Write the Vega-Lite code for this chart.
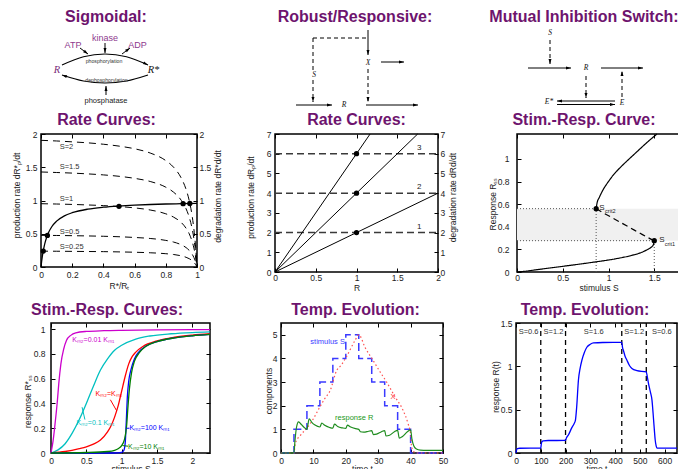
{
"$schema":"https://vega.github.io/schema/vega-lite/v6.json",
"padding":0,
"autosize":{"type":"pad"},
"spacing":0,
"bounds":"full",
"resolve":{"scale":{"color":"independent","strokeDash":"independent"}},
"config":{
 "view":{"stroke":null},
 "font":"Liberation Sans",
 "numberFormat":".3~f",
 "title":{"font":"Liberation Sans","fontSize":16,"fontWeight":"bold","color":"#6e146e","anchor":"middle","frame":"group","offset":4},
 "axis":{"domain":false,"grid":false,"tickSize":-4,"tickColor":"#000000","tickWidth":1,"labelFont":"Liberation Sans","labelFontSize":8.5,"labelColor":"#222222","labelPadding":7,"labelFlush":false,"labelOverlap":false,"titleFont":"Liberation Sans","titleFontSize":8.5,"titleFontWeight":"normal","titleColor":"#222222"},
 "axisLeft":{"titleAngle":-90,"titleBaseline":"middle","titleAlign":"center","labelPadding":8},
 "axisRight":{"titleAngle":-90,"titleBaseline":"middle","titleAlign":"center","labelPadding":6},
 "axisBottom":{"titleBaseline":"middle","titleAlign":"center"},
 "text":{"font":"Liberation Sans"}
},
"datasets":{
 "d1arc":[{"a":"u","x":62,"y":65},{"a":"u","x":83.5,"y":56.75},{"a":"u","x":105,"y":54},{"a":"u","x":126.5,"y":56.75},{"a":"u","x":148,"y":65},{"a":"l","x":62,"y":75},{"a":"l","x":83.5,"y":81},{"a":"l","x":105,"y":83},{"a":"l","x":126.5,"y":81},{"a":"l","x":148,"y":75}],
 "d1seg":[{"x":105,"y":43,"x2":105,"y2":53},{"x":80,"y":48,"x2":88,"y2":54},{"x":122,"y":54,"x2":130,"y2":48},{"x":106,"y":95,"x2":106,"y2":86}],
 "d1head":[{"x":148,"y":65,"ang":117},{"x":62,"y":75,"ang":290},{"x":105,"y":53,"ang":180},{"x":88,"y":54,"ang":127},{"x":130,"y":48,"ang":53},{"x":106,"y":86,"ang":0}],
 "d1t1":[{"t":"kinase","x":105,"y":38},{"t":"ATP","x":73,"y":45},{"t":"ADP","x":137.5,"y":45}],
 "d1t2":[{"t":"R","c":"p","x":57,"y":70},{"t":"R*","c":"k","x":153.5,"y":70}],
 "d1t3":[{"t":"phosphorylation","x":104,"y":61},{"t":"dephosphorylation","x":106.5,"y":79.5}],
 "d1t4":[{"t":"phosphatase","x":106,"y":100.5}],
 "d2seg":[{"d":"s","x":368,"y":30,"x2":368,"y2":55},{"d":"s","x":381,"y":62,"x2":404,"y2":62},{"d":"s","x":296,"y":105,"x2":332,"y2":105},{"d":"s","x":366,"y":105,"x2":418,"y2":105},{"d":"d","x":313,"y":38,"x2":368,"y2":38},{"d":"d","x":313,"y":38,"x2":313,"y2":70},{"d":"d","x":313,"y":80,"x2":313,"y2":102},{"d":"d","x":368,"y":69,"x2":368,"y2":102}],
 "d2head":[{"x":368,"y":55,"ang":180},{"x":404,"y":62,"ang":90},{"x":332,"y":105,"ang":90},{"x":418,"y":105,"ang":90},{"x":313,"y":102,"ang":180},{"x":368,"y":102,"ang":180}],
 "d2t":[{"t":"S","x":314,"y":75},{"t":"X","x":368,"y":63},{"t":"R","x":344,"y":105}],
 "d3seg":[{"d":"d","x":550,"y":40,"x2":550,"y2":64},{"d":"d","x":586,"y":76,"x2":586,"y2":98},{"d":"d","x":622,"y":97,"x2":622,"y2":71},{"d":"s","x":528,"y":68,"x2":571,"y2":68},{"d":"s","x":601,"y":68,"x2":643,"y2":68},{"d":"s","x":557,"y":101,"x2":615,"y2":101},{"d":"s","x":557,"y":104.5,"x2":615,"y2":104.5}],
 "d3head":[{"x":550,"y":64,"ang":180},{"x":586,"y":98,"ang":180},{"x":622,"y":71,"ang":0},{"x":571,"y":68,"ang":90},{"x":643,"y":68,"ang":90},{"x":557,"y":101,"ang":270},{"x":615,"y":104.5,"ang":90}],
 "d3t":[{"t":"S","x":550,"y":33},{"t":"R","x":586,"y":68},{"t":"E*","x":549,"y":102},{"t":"E","x":622,"y":103}],
 "p4dash":[
  {"S":"0.25","x":0,"y":0.238},{"S":"0.25","x":0.1,"y":0.237},{"S":"0.25","x":0.2,"y":0.235},{"S":"0.25","x":0.3,"y":0.233},{"S":"0.25","x":0.4,"y":0.231},{"S":"0.25","x":0.5,"y":0.227},{"S":"0.25","x":0.6,"y":0.222},{"S":"0.25","x":0.7,"y":0.214},{"S":"0.25","x":0.8,"y":0.2},{"S":"0.25","x":0.85,"y":0.188},{"S":"0.25","x":0.9,"y":0.167},{"S":"0.25","x":0.93,"y":0.146},{"S":"0.25","x":0.95,"y":0.125},{"S":"0.25","x":0.97,"y":0.094},{"S":"0.25","x":0.98,"y":0.071},{"S":"0.25","x":0.99,"y":0.042},{"S":"0.25","x":1,"y":0},
  {"S":"0.5","x":0,"y":0.476},{"S":"0.5","x":0.1,"y":0.474},{"S":"0.5","x":0.2,"y":0.471},{"S":"0.5","x":0.3,"y":0.467},{"S":"0.5","x":0.4,"y":0.462},{"S":"0.5","x":0.5,"y":0.455},{"S":"0.5","x":0.6,"y":0.444},{"S":"0.5","x":0.7,"y":0.429},{"S":"0.5","x":0.8,"y":0.4},{"S":"0.5","x":0.85,"y":0.375},{"S":"0.5","x":0.9,"y":0.333},{"S":"0.5","x":0.93,"y":0.292},{"S":"0.5","x":0.95,"y":0.25},{"S":"0.5","x":0.97,"y":0.188},{"S":"0.5","x":0.98,"y":0.143},{"S":"0.5","x":0.99,"y":0.083},{"S":"0.5","x":1,"y":0},
  {"S":"1","x":0,"y":0.952},{"S":"1","x":0.1,"y":0.947},{"S":"1","x":0.2,"y":0.941},{"S":"1","x":0.3,"y":0.933},{"S":"1","x":0.4,"y":0.923},{"S":"1","x":0.5,"y":0.909},{"S":"1","x":0.6,"y":0.889},{"S":"1","x":0.7,"y":0.857},{"S":"1","x":0.8,"y":0.8},{"S":"1","x":0.85,"y":0.75},{"S":"1","x":0.9,"y":0.667},{"S":"1","x":0.93,"y":0.583},{"S":"1","x":0.95,"y":0.5},{"S":"1","x":0.97,"y":0.375},{"S":"1","x":0.98,"y":0.286},{"S":"1","x":0.99,"y":0.167},{"S":"1","x":1,"y":0},
  {"S":"1.5","x":0,"y":1.429},{"S":"1.5","x":0.1,"y":1.421},{"S":"1.5","x":0.2,"y":1.412},{"S":"1.5","x":0.3,"y":1.4},{"S":"1.5","x":0.4,"y":1.385},{"S":"1.5","x":0.5,"y":1.364},{"S":"1.5","x":0.6,"y":1.333},{"S":"1.5","x":0.7,"y":1.286},{"S":"1.5","x":0.8,"y":1.2},{"S":"1.5","x":0.85,"y":1.125},{"S":"1.5","x":0.9,"y":1},{"S":"1.5","x":0.93,"y":0.875},{"S":"1.5","x":0.95,"y":0.75},{"S":"1.5","x":0.97,"y":0.563},{"S":"1.5","x":0.98,"y":0.429},{"S":"1.5","x":0.99,"y":0.25},{"S":"1.5","x":1,"y":0},
  {"S":"2","x":0,"y":1.905},{"S":"2","x":0.1,"y":1.895},{"S":"2","x":0.2,"y":1.882},{"S":"2","x":0.3,"y":1.867},{"S":"2","x":0.4,"y":1.846},{"S":"2","x":0.5,"y":1.818},{"S":"2","x":0.6,"y":1.778},{"S":"2","x":0.7,"y":1.714},{"S":"2","x":0.8,"y":1.6},{"S":"2","x":0.85,"y":1.5},{"S":"2","x":0.9,"y":1.333},{"S":"2","x":0.93,"y":1.167},{"S":"2","x":0.95,"y":1},{"S":"2","x":0.97,"y":0.75},{"S":"2","x":0.98,"y":0.571},{"S":"2","x":0.99,"y":0.333},{"S":"2","x":1,"y":0}],
 "p4solid":[{"x":0,"y":0},{"x":0.004,"y":0.082},{"x":0.008,"y":0.151},{"x":0.0145,"y":0.244},{"x":0.02,"y":0.308},{"x":0.03,"y":0.4},{"x":0.04,"y":0.471},{"x":0.05,"y":0.526},{"x":0.07,"y":0.609},{"x":0.1,"y":0.69},{"x":0.15,"y":0.769},{"x":0.2,"y":0.816},{"x":0.3,"y":0.87},{"x":0.4,"y":0.899},{"x":0.5,"y":0.917},{"x":0.6,"y":0.93},{"x":0.7,"y":0.94},{"x":0.8,"y":0.947},{"x":0.9,"y":0.952},{"x":1,"y":0.957}],
 "p4dots":[{"x":0.0145,"y":0.24},{"x":0.041,"y":0.475},{"x":0.5,"y":0.913},{"x":0.911,"y":0.952},{"x":0.954,"y":0.955}],
 "p4lab":[{"t":"S=2","x":0.12,"y":1.8},{"t":"S=1.5","x":0.12,"y":1.5},{"t":"S=1","x":0.12,"y":1.03},{"t":"S=0.5","x":0.12,"y":0.53},{"t":"S=0.25","x":0.12,"y":0.3}],
 "p5lines":[{"k":"1","x":0,"y":0},{"k":"1","x":2,"y":4},{"k":"2","x":0,"y":0},{"k":"2","x":1.75,"y":7},{"k":"3","x":0,"y":0},{"k":"3","x":1.1667,"y":7}],
 "p5dash":[{"k":"1","x":0,"y":2},{"k":"1","x":2,"y":2},{"k":"2","x":0,"y":4},{"k":"2","x":2,"y":4},{"k":"3","x":0,"y":6},{"k":"3","x":2,"y":6}],
 "p5dots":[{"x":1,"y":2},{"x":1,"y":4},{"x":1,"y":6}],
 "p5lab":[{"t":"1","x":1.77,"y":2.3},{"t":"2","x":1.77,"y":4.3},{"t":"3","x":1.77,"y":6.3}],
 "p6band":[{"x":0,"x2":2,"y":0.277,"y2":0.56}],
 "p6dot":[{"x":0,"y":0.56,"x2":0.865,"y2":0.56},{"x":0.865,"y":0,"x2":0.865,"y2":0.56},{"x":0,"y":0.277,"x2":1.5,"y2":0.277},{"x":1.5,"y":0,"x2":1.5,"y2":0.277}],
 "p6curve":[
  {"b":"lo","x":0,"y":0},{"b":"lo","x":0.1,"y":0.008},{"b":"lo","x":0.25,"y":0.024},{"b":"lo","x":0.5,"y":0.05},{"b":"lo","x":0.75,"y":0.077},{"b":"lo","x":0.865,"y":0.09},{"b":"lo","x":1,"y":0.106},{"b":"lo","x":1.15,"y":0.128},{"b":"lo","x":1.25,"y":0.146},{"b":"lo","x":1.35,"y":0.17},{"b":"lo","x":1.42,"y":0.196},{"b":"lo","x":1.46,"y":0.215},{"b":"lo","x":1.49,"y":0.24},{"b":"lo","x":1.5,"y":0.277},
  {"b":"mid","x":0.865,"y":0.56},{"b":"mid","x":0.95,"y":0.52},{"b":"mid","x":1.05,"y":0.475},{"b":"mid","x":1.15,"y":0.43},{"b":"mid","x":1.25,"y":0.385},{"b":"mid","x":1.35,"y":0.34},{"b":"mid","x":1.43,"y":0.305},{"b":"mid","x":1.5,"y":0.277},
  {"b":"up","x":0.865,"y":0.56},{"b":"up","x":0.875,"y":0.61},{"b":"up","x":0.9,"y":0.66},{"b":"up","x":0.95,"y":0.74},{"b":"up","x":1,"y":0.8},{"b":"up","x":1.05,"y":0.855},{"b":"up","x":1.1,"y":0.9},{"b":"up","x":1.2,"y":0.98},{"b":"up","x":1.3,"y":1.055},{"b":"up","x":1.4,"y":1.13},{"b":"up","x":1.5,"y":1.2},{"b":"up","x":1.53,"y":1.22}],
 "p6pts":[{"x":0.865,"y":0.56},{"x":1.5,"y":0.277}],
 "p6S":[{"t":"S","x":0.9,"y":0.57},{"t":"S","x":1.555,"y":0.283}],
 "p6sub":[{"t":"crit2","x":0.963,"y":0.535},{"t":"crit1","x":1.615,"y":0.25}],
 "p7curves":[
  {"k":"m","x":0,"y":0},{"k":"m","x":0.03,"y":0.1},{"k":"m","x":0.06,"y":0.25},{"k":"m","x":0.09,"y":0.42},{"k":"m","x":0.11,"y":0.56},{"k":"m","x":0.14,"y":0.72},{"k":"m","x":0.18,"y":0.84},{"k":"m","x":0.22,"y":0.91},{"k":"m","x":0.28,"y":0.95},{"k":"m","x":0.35,"y":0.97},{"k":"m","x":0.5,"y":0.982},{"k":"m","x":0.75,"y":0.988},{"k":"m","x":1,"y":0.991},{"k":"m","x":1.5,"y":0.994},{"k":"m","x":2,"y":0.996},{"k":"m","x":2.25,"y":0.997},
  {"k":"c","x":0,"y":0},{"k":"c","x":0.1,"y":0.025},{"k":"c","x":0.2,"y":0.075},{"k":"c","x":0.3,"y":0.16},{"k":"c","x":0.4,"y":0.27},{"k":"c","x":0.5,"y":0.4},{"k":"c","x":0.6,"y":0.54},{"k":"c","x":0.7,"y":0.67},{"k":"c","x":0.8,"y":0.76},{"k":"c","x":0.9,"y":0.83},{"k":"c","x":1,"y":0.87},{"k":"c","x":1.2,"y":0.92},{"k":"c","x":1.4,"y":0.945},{"k":"c","x":1.7,"y":0.963},{"k":"c","x":2,"y":0.973},{"k":"c","x":2.25,"y":0.978},
  {"k":"r","x":0,"y":0},{"k":"r","x":0.2,"y":0.012},{"k":"r","x":0.4,"y":0.035},{"k":"r","x":0.5,"y":0.05},{"k":"r","x":0.6,"y":0.072},{"k":"r","x":0.7,"y":0.105},{"k":"r","x":0.8,"y":0.17},{"k":"r","x":0.85,"y":0.22},{"k":"r","x":0.9,"y":0.29},{"k":"r","x":0.95,"y":0.38},{"k":"r","x":1,"y":0.5},{"k":"r","x":1.05,"y":0.62},{"k":"r","x":1.1,"y":0.72},{"k":"r","x":1.15,"y":0.78},{"k":"r","x":1.2,"y":0.815},{"k":"r","x":1.3,"y":0.86},{"k":"r","x":1.5,"y":0.905},{"k":"r","x":1.75,"y":0.935},{"k":"r","x":2,"y":0.952},{"k":"r","x":2.25,"y":0.963},
  {"k":"b","x":0,"y":0},{"k":"b","x":0.9,"y":0},{"k":"b","x":1,"y":0.005},{"k":"b","x":1.03,"y":0.02},{"k":"b","x":1.05,"y":0.08},{"k":"b","x":1.065,"y":0.25},{"k":"b","x":1.08,"y":0.45},{"k":"b","x":1.1,"y":0.58},{"k":"b","x":1.13,"y":0.67},{"k":"b","x":1.18,"y":0.76},{"k":"b","x":1.25,"y":0.82},{"k":"b","x":1.35,"y":0.865},{"k":"b","x":1.5,"y":0.9},{"k":"b","x":1.75,"y":0.93},{"k":"b","x":2,"y":0.947},{"k":"b","x":2.25,"y":0.958},
  {"k":"g","x":0,"y":0},{"k":"g","x":0.5,"y":0.004},{"k":"g","x":0.8,"y":0.012},{"k":"g","x":0.9,"y":0.022},{"k":"g","x":0.95,"y":0.035},{"k":"g","x":1,"y":0.06},{"k":"g","x":1.04,"y":0.11},{"k":"g","x":1.07,"y":0.22},{"k":"g","x":1.09,"y":0.38},{"k":"g","x":1.11,"y":0.52},{"k":"g","x":1.14,"y":0.65},{"k":"g","x":1.18,"y":0.74},{"k":"g","x":1.25,"y":0.81},{"k":"g","x":1.35,"y":0.865},{"k":"g","x":1.5,"y":0.9},{"k":"g","x":1.75,"y":0.93},{"k":"g","x":2,"y":0.947},{"k":"g","x":2.25,"y":0.958}],
 "p7lab":[{"k":"m","t":"Kₘ₂=0.01 Kₘ₁","x":0.3,"y":0.91},{"k":"c","t":"Kₘ₂=0.1 Kₘ₁","x":0.36,"y":0.24},{"k":"r","t":"Kₘ₂=Kₘ₁","x":0.63,"y":0.48},{"k":"b","t":"Kₘ₂=100 Kₘ₁","x":1.11,"y":0.2},{"k":"g","t":"Kₘ₂=10 Kₘ₁","x":1.09,"y":0.05}],
 "p7ptr":[{"k":"c","x":0.48,"y":0.27,"x2":0.44,"y2":0.37},{"k":"r","x":0.84,"y":0.43,"x2":0.93,"y2":0.34},{"k":"b","x":1.11,"y":0.2,"x2":1.065,"y2":0.2},{"k":"g","x":1.09,"y":0.055,"x2":1.01,"y2":0.06}],
 "p8S":[{"x":0,"y":0},{"x":4,"y":1},{"x":8,"y":2},{"x":12,"y":3},{"x":16,"y":4},{"x":20,"y":5},{"x":24,"y":4},{"x":28,"y":3},{"x":32,"y":2},{"x":36,"y":1},{"x":40,"y":0},{"x":50,"y":0}],
 "p8X":[{"x":0,"y":0},{"x":4,"y":0},{"x":4.4,"y":0.4},{"x":6,"y":0.75},{"x":8,"y":1.05},{"x":10,"y":1.45},{"x":12,"y":1.95},{"x":13.5,"y":2.3},{"x":15.2,"y":2.65},{"x":17.2,"y":3.5},{"x":18.5,"y":3.7},{"x":20.3,"y":4.1},{"x":22.8,"y":4.75},{"x":24,"y":5},{"x":26,"y":4.45},{"x":28.5,"y":3.9},{"x":30.5,"y":3.45},{"x":32.6,"y":3},{"x":35.1,"y":2.4},{"x":37.7,"y":1.8},{"x":39.2,"y":1.25},{"x":40,"y":0.8},{"x":40.3,"y":0.27},{"x":41,"y":0.05},{"x":42,"y":0},{"x":50,"y":0}],
 "p8R":[{"x":0,"y":0},{"x":4,"y":0},{"x":4.3,"y":0.5},{"x":4.8,"y":1.1},{"x":5.4,"y":1.32},{"x":6,"y":1.25},{"x":7,"y":1.1},{"x":8,"y":1},{"x":8.3,"y":1.2},{"x":8.7,"y":1.45},{"x":9.5,"y":1.3},{"x":10.5,"y":1.18},{"x":12,"y":1.1},{"x":12.6,"y":1.27},{"x":13.5,"y":1.17},{"x":15,"y":1.08},{"x":16,"y":1.05},{"x":16.5,"y":1.22},{"x":17.5,"y":1.12},{"x":19,"y":1.06},{"x":20,"y":1.04},{"x":20.5,"y":1.18},{"x":21.5,"y":1.1},{"x":23,"y":1.03},{"x":24,"y":1},{"x":24.5,"y":0.9},{"x":25.5,"y":0.88},{"x":27,"y":0.92},{"x":28,"y":0.95},{"x":28.5,"y":0.78},{"x":29.5,"y":0.8},{"x":31,"y":0.9},{"x":32,"y":0.95},{"x":32.4,"y":0.72},{"x":33.5,"y":0.75},{"x":35,"y":0.9},{"x":36,"y":0.96},{"x":36.5,"y":0.63},{"x":37.5,"y":0.7},{"x":39,"y":0.9},{"x":40,"y":0.98},{"x":40.4,"y":0.6},{"x":41,"y":0.3},{"x":41.8,"y":0.17},{"x":43,"y":0.12},{"x":45,"y":0.11},{"x":50,"y":0.11}],
 "p8lab":[{"k":"S","t":"stimulus S","x":14.4,"y":4.68},{"k":"X","t":"X","x":34.6,"y":2.39},{"k":"R","t":"response R","x":22.6,"y":1.46}],
 "p9line":[{"x":0,"y":0},{"x":2,"y":0.03},{"x":5,"y":0.05},{"x":15,"y":0.055},{"x":100,"y":0.056},{"x":102,"y":0.1},{"x":105,"y":0.13},{"x":110,"y":0.14},{"x":130,"y":0.144},{"x":200,"y":0.145},{"x":203,"y":0.17},{"x":212,"y":0.21},{"x":225,"y":0.29},{"x":235,"y":0.34},{"x":240,"y":0.38},{"x":245,"y":0.53},{"x":252,"y":0.84},{"x":259,"y":0.98},{"x":266,"y":1.07},{"x":276,"y":1.16},{"x":286,"y":1.22},{"x":300,"y":1.255},{"x":313,"y":1.27},{"x":350,"y":1.275},{"x":427,"y":1.276},{"x":430,"y":1.22},{"x":434,"y":1.18},{"x":440,"y":1.12},{"x":448,"y":1.07},{"x":458,"y":1.01},{"x":468,"y":0.975},{"x":488,"y":0.95},{"x":526,"y":0.935},{"x":530,"y":0.88},{"x":535,"y":0.8},{"x":542,"y":0.71},{"x":549,"y":0.61},{"x":555,"y":0.4},{"x":559,"y":0.25},{"x":562,"y":0.15},{"x":566,"y":0.08},{"x":570,"y":0.056},{"x":650,"y":0.056}],
 "p9vl":[{"x":100,"y":0,"y2":1.5},{"x":200,"y":0,"y2":1.5},{"x":427,"y":0,"y2":1.5},{"x":526,"y":0,"y2":1.5}],
 "p9lab":[{"t":"S=0.6","x":51,"y":1.395},{"t":"S=1.2","x":151,"y":1.395},{"t":"S=1.6","x":314,"y":1.395},{"t":"S=1.2","x":477,"y":1.395},{"t":"S=0.6","x":589,"y":1.395}]
},
"vconcat":[
{"hconcat":[
 {"width":41,"height":58,"data":{"values":[{"x":0.2,"y":-24.8},{"x":0.2,"y":83.8}]},"mark":{"type":"point","opacity":0,"size":0.1},"encoding":{"x":{"field":"x","type":"quantitative","scale":{"domain":[0,41],"nice":false,"zero":false},"axis":null},"y":{"field":"y","type":"quantitative","scale":{"domain":[0,58],"nice":false,"zero":false,"reverse":true},"axis":null}}},
 {"width":156,"height":58,"title":{"text":"Sigmoidal:","dx":-13,"offset":0},
  "layer":[
   {"data":{"name":"d1arc"},"mark":{"type":"line","color":"#000000","strokeWidth":1.1,"interpolate":"monotone"},"encoding":{"x":{"field":"x","type":"quantitative","scale":{"domain":[41,197],"nice":false,"zero":false},"axis":null},"y":{"field":"y","type":"quantitative","scale":{"domain":[25,83],"nice":false,"zero":false,"reverse":true},"axis":null},"detail":{"field":"a","type":"nominal"}}},
   {"data":{"name":"d1seg"},"mark":{"type":"rule","color":"#000000","strokeWidth":1},"encoding":{"x":{"field":"x","type":"quantitative","scale":{"domain":[41,197],"nice":false,"zero":false},"axis":null},"y":{"field":"y","type":"quantitative","scale":{"domain":[25,83],"nice":false,"zero":false,"reverse":true},"axis":null},"x2":{"field":"x2"},"y2":{"field":"y2"}}},
   {"data":{"name":"d1head"},"mark":{"type":"point","shape":"M0,0L0.6,2L-0.6,2Z","filled":true,"color":"#000000","opacity":1,"size":25,"strokeWidth":0},"encoding":{"x":{"field":"x","type":"quantitative","scale":{"domain":[41,197],"nice":false,"zero":false},"axis":null},"y":{"field":"y","type":"quantitative","scale":{"domain":[25,83],"nice":false,"zero":false,"reverse":true},"axis":null},"angle":{"field":"ang","type":"quantitative","scale":null}}},
   {"data":{"name":"d1t1"},"mark":{"type":"text","fontSize":9,"color":"#8e3a8e"},"encoding":{"x":{"field":"x","type":"quantitative","scale":{"domain":[41,197],"nice":false,"zero":false},"axis":null},"y":{"field":"y","type":"quantitative","scale":{"domain":[25,83],"nice":false,"zero":false,"reverse":true},"axis":null},"text":{"field":"t"}}},
   {"data":{"name":"d1t2"},"mark":{"type":"text","font":"Liberation Serif","fontStyle":"italic","fontSize":10.5},"encoding":{"x":{"field":"x","type":"quantitative","scale":{"domain":[41,197],"nice":false,"zero":false},"axis":null},"y":{"field":"y","type":"quantitative","scale":{"domain":[25,83],"nice":false,"zero":false,"reverse":true},"axis":null},"text":{"field":"t"},"color":{"field":"c","type":"nominal","scale":{"domain":["p","k"],"range":["#7a2a7a","#111111"]},"legend":null}}},
   {"data":{"name":"d1t3"},"mark":{"type":"text","fontSize":5.2,"color":"#333333"},"encoding":{"x":{"field":"x","type":"quantitative","scale":{"domain":[41,197],"nice":false,"zero":false},"axis":null},"y":{"field":"y","type":"quantitative","scale":{"domain":[25,83],"nice":false,"zero":false,"reverse":true},"axis":null},"text":{"field":"t"}}},
   {"data":{"name":"d1t4"},"mark":{"type":"text","fontSize":7.5,"color":"#222222"},"encoding":{"x":{"field":"x","type":"quantitative","scale":{"domain":[41,197],"nice":false,"zero":false},"axis":null},"y":{"field":"y","type":"quantitative","scale":{"domain":[25,83],"nice":false,"zero":false,"reverse":true},"axis":null},"text":{"field":"t"}}}
  ]},
 {"width":78,"height":58,"data":{"values":[{}]},"mark":{"type":"point","opacity":0},"encoding":{}},
 {"width":163,"height":58,"title":{"text":"Robust/Responsive:","dx":-1.5,"offset":0},
  "layer":[
   {"data":{"name":"d2seg"},"mark":{"type":"rule","color":"#000000","strokeWidth":1},"encoding":{"x":{"field":"x","type":"quantitative","scale":{"domain":[275,438],"nice":false,"zero":false},"axis":null},"y":{"field":"y","type":"quantitative","scale":{"domain":[25,83],"nice":false,"zero":false,"reverse":true},"axis":null},"x2":{"field":"x2"},"y2":{"field":"y2"},"strokeDash":{"field":"d","type":"nominal","scale":{"domain":["s","d"],"range":[[1,0],[4,3]]},"legend":null}}},
   {"data":{"name":"d2head"},"mark":{"type":"point","shape":"M0,0L0.6,2L-0.6,2Z","filled":true,"color":"#000000","opacity":1,"size":25,"strokeWidth":0},"encoding":{"x":{"field":"x","type":"quantitative","scale":{"domain":[275,438],"nice":false,"zero":false},"axis":null},"y":{"field":"y","type":"quantitative","scale":{"domain":[25,83],"nice":false,"zero":false,"reverse":true},"axis":null},"angle":{"field":"ang","type":"quantitative","scale":null}}},
   {"data":{"name":"d2t"},"mark":{"type":"text","font":"Liberation Serif","fontStyle":"italic","fontSize":7.5,"color":"#111111"},"encoding":{"x":{"field":"x","type":"quantitative","scale":{"domain":[275,438],"nice":false,"zero":false},"axis":null},"y":{"field":"y","type":"quantitative","scale":{"domain":[25,83],"nice":false,"zero":false,"reverse":true},"axis":null},"text":{"field":"t"}}}
  ]},
 {"width":79,"height":58,"data":{"values":[{}]},"mark":{"type":"point","opacity":0},"encoding":{}},
 {"width":183,"height":58,"title":{"text":"Mutual Inhibition Switch:","dx":-24.5,"offset":0},
  "layer":[
   {"data":{"name":"d3seg"},"mark":{"type":"rule","color":"#000000","strokeWidth":1},"encoding":{"x":{"field":"x","type":"quantitative","scale":{"domain":[517,700],"nice":false,"zero":false},"axis":null},"y":{"field":"y","type":"quantitative","scale":{"domain":[25,83],"nice":false,"zero":false,"reverse":true},"axis":null},"x2":{"field":"x2"},"y2":{"field":"y2"},"strokeDash":{"field":"d","type":"nominal","scale":{"domain":["s","d"],"range":[[1,0],[4,3]]},"legend":null}}},
   {"data":{"name":"d3head"},"mark":{"type":"point","shape":"M0,0L0.6,2L-0.6,2Z","filled":true,"color":"#000000","opacity":1,"size":25,"strokeWidth":0},"encoding":{"x":{"field":"x","type":"quantitative","scale":{"domain":[517,700],"nice":false,"zero":false},"axis":null},"y":{"field":"y","type":"quantitative","scale":{"domain":[25,83],"nice":false,"zero":false,"reverse":true},"axis":null},"angle":{"field":"ang","type":"quantitative","scale":null}}},
   {"data":{"name":"d3t"},"mark":{"type":"text","font":"Liberation Serif","fontStyle":"italic","fontSize":7.5,"color":"#111111"},"encoding":{"x":{"field":"x","type":"quantitative","scale":{"domain":[517,700],"nice":false,"zero":false},"axis":null},"y":{"field":"y","type":"quantitative","scale":{"domain":[25,83],"nice":false,"zero":false,"reverse":true},"axis":null},"text":{"field":"t"}}}
  ]}
 ],"spacing":0,"bounds":"flush","resolve":{"scale":{"color":"independent","strokeDash":"independent"}}},

{"hconcat":[
 {"width":41,"height":138,"data":{"values":[{"x":0.2,"y":-24.8},{"x":0.2,"y":161.8}]},"mark":{"type":"point","opacity":0,"size":0.1},"encoding":{"x":{"field":"x","type":"quantitative","scale":{"domain":[0,41],"nice":false,"zero":false},"axis":null},"y":{"field":"y","type":"quantitative","scale":{"domain":[0,138],"nice":false,"zero":false,"reverse":true},"axis":null}}},
 {"width":156,"height":133,"title":{"text":"Rate Curves:","dx":-12.5,"offset":2},"view":{"stroke":"#000000","strokeWidth":1.5},
  "resolve":{"axis":{"x":"independent","y":"independent"}},
  "layer":[
   {"data":{"name":"p4dash"},"mark":{"type":"line","color":"#000000","strokeWidth":1,"strokeDash":[7,5],"interpolate":"monotone"},"encoding":{"x":{"field":"x","type":"quantitative","scale":{"domain":[0,1],"nice":false,"zero":false},"axis":{"orient":"bottom","values":[0,0.2,0.4,0.6,0.8,1],"title":"R*/Rₜ","titleY":18}},"y":{"field":"y","type":"quantitative","scale":{"domain":[0,2],"nice":false,"zero":false},"axis":{"orient":"left","values":[0,0.5,1,1.5,2],"title":"production rate dR*ₚ/dt","titleX":-25,"titleY":61}},"detail":{"field":"S","type":"nominal"}}},
   {"data":{"name":"p4solid"},"mark":{"type":"line","color":"#000000","strokeWidth":1.3,"interpolate":"monotone"},"encoding":{"x":{"field":"x","type":"quantitative","scale":{"domain":[0,1],"nice":false,"zero":false},"axis":{"orient":"top","values":[0,0.2,0.4,0.6,0.8,1],"labels":false,"title":null}},"y":{"field":"y","type":"quantitative","scale":{"domain":[0,2],"nice":false,"zero":false},"axis":{"orient":"right","values":[0,0.5,1,1.5,2],"title":"degradation rate dR*d/dt","titleX":20,"titleY":62}}}},
   {"data":{"name":"p4dots"},"mark":{"type":"point","filled":true,"color":"#000000","opacity":1,"size":28},"encoding":{"x":{"field":"x","type":"quantitative","scale":{"domain":[0,1],"nice":false,"zero":false},"axis":null},"y":{"field":"y","type":"quantitative","scale":{"domain":[0,2],"nice":false,"zero":false},"axis":null}}},
   {"data":{"name":"p4lab"},"mark":{"type":"text","align":"left","fontSize":7.5,"color":"#333333"},"encoding":{"x":{"field":"x","type":"quantitative","scale":{"domain":[0,1],"nice":false,"zero":false},"axis":null},"y":{"field":"y","type":"quantitative","scale":{"domain":[0,2],"nice":false,"zero":false},"axis":null},"text":{"field":"t"}}}
  ]},
 {"width":78,"height":138,"data":{"values":[{}]},"mark":{"type":"point","opacity":0},"encoding":{}},
 {"width":163,"height":138,"title":{"text":"Rate Curves:","dx":0,"offset":2},"view":{"stroke":"#000000","strokeWidth":1.5},
  "resolve":{"axis":{"x":"independent","y":"independent"}},
  "layer":[
   {"data":{"name":"p5dash"},"mark":{"type":"line","color":"#3a3a3a","strokeWidth":1.5,"strokeDash":[7,4]},"encoding":{"x":{"field":"x","type":"quantitative","scale":{"domain":[0,2],"nice":false,"zero":false},"axis":{"orient":"bottom","values":[0,0.5,1,1.5,2],"title":"R","titleY":15.5,"labelPadding":5}},"y":{"field":"y","type":"quantitative","scale":{"domain":[0,7],"nice":false,"zero":false},"axis":{"orient":"left","values":[0,1,2,3,4,5,6,7],"title":"production rate dRₚ/dt","titleX":-25,"titleY":63}},"detail":{"field":"k","type":"nominal"}}},
   {"data":{"name":"p5lines"},"mark":{"type":"line","color":"#000000","strokeWidth":1},"encoding":{"x":{"field":"x","type":"quantitative","scale":{"domain":[0,2],"nice":false,"zero":false},"axis":{"orient":"top","values":[0,0.5,1,1.5,2],"labels":false,"title":null}},"y":{"field":"y","type":"quantitative","scale":{"domain":[0,7],"nice":false,"zero":false},"axis":{"orient":"right","values":[0,1,2,3,4,5,6,7],"title":"degradation rate dRd/dt","titleX":14,"titleY":63}},"detail":{"field":"k","type":"nominal"}}},
   {"data":{"name":"p5dots"},"mark":{"type":"point","filled":true,"color":"#000000","opacity":1,"size":28},"encoding":{"x":{"field":"x","type":"quantitative","scale":{"domain":[0,2],"nice":false,"zero":false},"axis":null},"y":{"field":"y","type":"quantitative","scale":{"domain":[0,7],"nice":false,"zero":false},"axis":null}}},
   {"data":{"name":"p5lab"},"mark":{"type":"text","fontSize":8,"color":"#222222"},"encoding":{"x":{"field":"x","type":"quantitative","scale":{"domain":[0,2],"nice":false,"zero":false},"axis":null},"y":{"field":"y","type":"quantitative","scale":{"domain":[0,7],"nice":false,"zero":false},"axis":null},"text":{"field":"t"}}}
  ]},
 {"width":79,"height":138,"data":{"values":[{}]},"mark":{"type":"point","opacity":0},"encoding":{}},
 {"width":183,"height":138,"title":{"text":"Stim.-Resp. Curve:","dx":-24.5,"offset":3.3},"view":{"stroke":"#000000","strokeWidth":1.5},
  "resolve":{"axis":{"x":"independent","y":"independent"}},
  "layer":[
   {"data":{"name":"p6band"},"mark":{"type":"rect","color":"#f0f0f0"},"encoding":{"x":{"field":"x","type":"quantitative","scale":{"domain":[0,2],"nice":false,"zero":false},"axis":{"orient":"bottom","values":[0,0.5,1,1.5],"title":"stimulus S","titleX":81.5,"titleY":15.5,"labelPadding":5}},"x2":{"field":"x2"},"y":{"field":"y","type":"quantitative","scale":{"domain":[0,1.22],"nice":false,"zero":false},"axis":{"orient":"left","values":[0,0.2,0.4,0.6,0.8,1],"title":"Response Rₛₛ","titleX":-25,"titleY":69.5,"labelPadding":12}},"y2":{"field":"y2"}}},
   {"data":{"name":"p6dot"},"mark":{"type":"rule","color":"#555555","strokeWidth":1,"strokeDash":[1,2]},"encoding":{"x":{"field":"x","type":"quantitative","scale":{"domain":[0,2],"nice":false,"zero":false},"axis":null},"y":{"field":"y","type":"quantitative","scale":{"domain":[0,1.22],"nice":false,"zero":false},"axis":null},"x2":{"field":"x2"},"y2":{"field":"y2"}}},
   {"data":{"name":"p6curve"},"mark":{"type":"line","color":"#000000","strokeWidth":1.2,"interpolate":"monotone"},"encoding":{"x":{"field":"x","type":"quantitative","scale":{"domain":[0,2],"nice":false,"zero":false},"axis":{"orient":"top","values":[0,0.5,1,1.5],"labels":false,"title":null}},"y":{"field":"y","type":"quantitative","scale":{"domain":[0,1.22],"nice":false,"zero":false},"axis":{"orient":"right","values":[0,0.2,0.4,0.6,0.8,1],"labels":false,"title":null}},"detail":{"field":"b","type":"nominal"},"strokeDash":{"field":"b","type":"nominal","scale":{"domain":["lo","mid","up"],"range":[[1,0],[6,4],[1,0]]},"legend":null}}},
   {"data":{"name":"p6pts"},"mark":{"type":"point","filled":true,"color":"#000000","opacity":1,"size":28},"encoding":{"x":{"field":"x","type":"quantitative","scale":{"domain":[0,2],"nice":false,"zero":false},"axis":null},"y":{"field":"y","type":"quantitative","scale":{"domain":[0,1.22],"nice":false,"zero":false},"axis":null}}},
   {"data":{"name":"p6S"},"mark":{"type":"text","align":"left","fontSize":8,"color":"#222222"},"encoding":{"x":{"field":"x","type":"quantitative","scale":{"domain":[0,2],"nice":false,"zero":false},"axis":null},"y":{"field":"y","type":"quantitative","scale":{"domain":[0,1.22],"nice":false,"zero":false},"axis":null},"text":{"field":"t"}}},
   {"data":{"name":"p6sub"},"mark":{"type":"text","align":"left","fontSize":5.5,"color":"#222222"},"encoding":{"x":{"field":"x","type":"quantitative","scale":{"domain":[0,2],"nice":false,"zero":false},"axis":null},"y":{"field":"y","type":"quantitative","scale":{"domain":[0,1.22],"nice":false,"zero":false},"axis":null},"text":{"field":"t"}}}
  ]}
 ],"spacing":0,"bounds":"flush","resolve":{"scale":{"color":"independent","strokeDash":"independent"}}},

{"hconcat":[
 {"width":51,"height":130,"data":{"values":[{"x":0.2,"y":-26.8}]},"mark":{"type":"point","opacity":0,"size":0.1},"encoding":{"x":{"field":"x","type":"quantitative","scale":{"domain":[0,51],"nice":false,"zero":false},"axis":null},"y":{"field":"y","type":"quantitative","scale":{"domain":[0,130],"nice":false,"zero":false,"reverse":true},"axis":null}}},
 {"width":159,"height":130,"title":{"text":"Stim.-Resp. Curves:","dx":-23.5,"offset":4.9},"view":{"stroke":"#000000","strokeWidth":1.5},
  "resolve":{"axis":{"x":"independent","y":"independent"}},
  "layer":[
   {"data":{"name":"p7curves"},"mark":{"type":"line","strokeWidth":1.3,"interpolate":"monotone"},"encoding":{"x":{"field":"x","type":"quantitative","scale":{"domain":[0,2.25],"nice":false,"zero":false},"axis":{"orient":"bottom","values":[0,0.5,1,1.5,2],"title":"stimulus S","titleY":15}},"y":{"field":"y","type":"quantitative","scale":{"domain":[0,1.05],"nice":false,"zero":false},"axis":{"orient":"left","values":[0,0.2,0.4,0.6,0.8,1],"title":"response R*ₛₛ","titleX":-24,"titleY":78,"labelPadding":10}},"color":{"field":"k","type":"nominal","scale":{"domain":["m","c","r","b","g"],"range":["#cc00cc","#00c0c0","#ff0000","#0000ff","#008000"]},"legend":null}}},
   {"data":{"name":"p7ptr"},"mark":{"type":"rule","strokeWidth":1},"encoding":{"x":{"field":"x","type":"quantitative","scale":{"domain":[0,2.25],"nice":false,"zero":false},"axis":{"orient":"top","values":[0,0.5,1,1.5,2],"labels":false,"title":null}},"y":{"field":"y","type":"quantitative","scale":{"domain":[0,1.05],"nice":false,"zero":false},"axis":{"orient":"right","values":[0,0.2,0.4,0.6,0.8,1],"labels":false,"title":null}},"x2":{"field":"x2"},"y2":{"field":"y2"},"color":{"field":"k","type":"nominal","scale":{"domain":["m","c","r","b","g"],"range":["#cc00cc","#00c0c0","#ff0000","#0000ff","#008000"]},"legend":null}}},
   {"data":{"name":"p7lab"},"mark":{"type":"text","align":"left","fontSize":7},"encoding":{"x":{"field":"x","type":"quantitative","scale":{"domain":[0,2.25],"nice":false,"zero":false},"axis":null},"y":{"field":"y","type":"quantitative","scale":{"domain":[0,1.05],"nice":false,"zero":false},"axis":null},"text":{"field":"t"},"color":{"field":"k","type":"nominal","scale":{"domain":["m","c","r","b","g"],"range":["#cc00cc","#00c0c0","#ff0000","#0000ff","#008000"]},"legend":null}}}
  ]},
 {"width":71,"height":130,"data":{"values":[{}]},"mark":{"type":"point","opacity":0},"encoding":{}},
 {"width":162,"height":130,"title":{"text":"Temp. Evolution:","dx":-6.5,"offset":4.9},"view":{"stroke":"#000000","strokeWidth":1.5},
  "resolve":{"axis":{"x":"independent","y":"independent"}},
  "layer":[
   {"data":{"name":"p8S"},"mark":{"type":"line","color":"#3a3aff","strokeWidth":1.5,"strokeDash":[8,4],"interpolate":"step-after"},"encoding":{"x":{"field":"x","type":"quantitative","scale":{"domain":[0,50],"nice":false,"zero":false},"axis":{"orient":"bottom","values":[0,10,20,30,40,50],"title":"time t","titleY":15}},"y":{"field":"y","type":"quantitative","scale":{"domain":[0,5.5],"nice":false,"zero":false},"axis":{"orient":"left","values":[0,1,2,3,4,5],"title":"components","titleX":-13,"titleY":67.5}}}},
   {"data":{"name":"p8X"},"mark":{"type":"line","color":"#ff5050","strokeWidth":1.2,"strokeDash":[1.5,2.5],"interpolate":"monotone"},"encoding":{"x":{"field":"x","type":"quantitative","scale":{"domain":[0,50],"nice":false,"zero":false},"axis":{"orient":"top","values":[0,10,20,30,40,50],"labels":false,"title":null}},"y":{"field":"y","type":"quantitative","scale":{"domain":[0,5.5],"nice":false,"zero":false},"axis":{"orient":"right","values":[0,1,2,3,4,5],"labels":false,"title":null}}}},
   {"data":{"name":"p8R"},"mark":{"type":"line","color":"#1e8c1e","strokeWidth":1.2,"interpolate":"monotone"},"encoding":{"x":{"field":"x","type":"quantitative","scale":{"domain":[0,50],"nice":false,"zero":false},"axis":null},"y":{"field":"y","type":"quantitative","scale":{"domain":[0,5.5],"nice":false,"zero":false},"axis":null}}},
   {"data":{"name":"p8lab"},"mark":{"type":"text","fontSize":7.5},"encoding":{"x":{"field":"x","type":"quantitative","scale":{"domain":[0,50],"nice":false,"zero":false},"axis":null},"y":{"field":"y","type":"quantitative","scale":{"domain":[0,5.5],"nice":false,"zero":false},"axis":null},"text":{"field":"t"},"color":{"field":"k","type":"nominal","scale":{"domain":["S","X","R"],"range":["#3c3cff","#ff3030","#229922"]},"legend":null}}}
  ]},
 {"width":73,"height":130,"data":{"values":[{}]},"mark":{"type":"point","opacity":0},"encoding":{}},
 {"width":161,"height":130,"title":{"text":"Temp. Evolution:","dx":-11.5,"offset":1.4},"view":{"stroke":"#000000","strokeWidth":1.5},
  "resolve":{"axis":{"x":"independent","y":"independent"}},
  "layer":[
   {"data":{"name":"p9vl"},"mark":{"type":"rule","color":"#000000","strokeWidth":1.3,"strokeDash":[5,4]},"encoding":{"x":{"field":"x","type":"quantitative","scale":{"domain":[0,650],"nice":false,"zero":false},"axis":{"orient":"bottom","values":[0,100,200,300,400,500,600],"title":"time t","titleY":15}},"y":{"field":"y","type":"quantitative","scale":{"domain":[0,1.5],"nice":false,"zero":false},"axis":{"orient":"left","values":[0,0.5,1,1.5],"title":"response R(t)","titleX":-21,"titleY":63.5}},"y2":{"field":"y2"}}},
   {"data":{"name":"p9line"},"mark":{"type":"line","color":"#0000ff","strokeWidth":1.3,"interpolate":"monotone"},"encoding":{"x":{"field":"x","type":"quantitative","scale":{"domain":[0,650],"nice":false,"zero":false},"axis":{"orient":"top","values":[0,100,200,300,400,500,600],"labels":false,"title":null}},"y":{"field":"y","type":"quantitative","scale":{"domain":[0,1.5],"nice":false,"zero":false},"axis":{"orient":"right","values":[0,0.5,1,1.5],"labels":false,"title":null}}}},
   {"data":{"name":"p9lab"},"mark":{"type":"text","fontSize":7.5,"color":"#333333"},"encoding":{"x":{"field":"x","type":"quantitative","scale":{"domain":[0,650],"nice":false,"zero":false},"axis":null},"y":{"field":"y","type":"quantitative","scale":{"domain":[0,1.5],"nice":false,"zero":false},"axis":null},"text":{"field":"t"}}}
  ]}
 ],"spacing":0,"bounds":"flush","resolve":{"scale":{"color":"independent","strokeDash":"independent"}}}
]
}
